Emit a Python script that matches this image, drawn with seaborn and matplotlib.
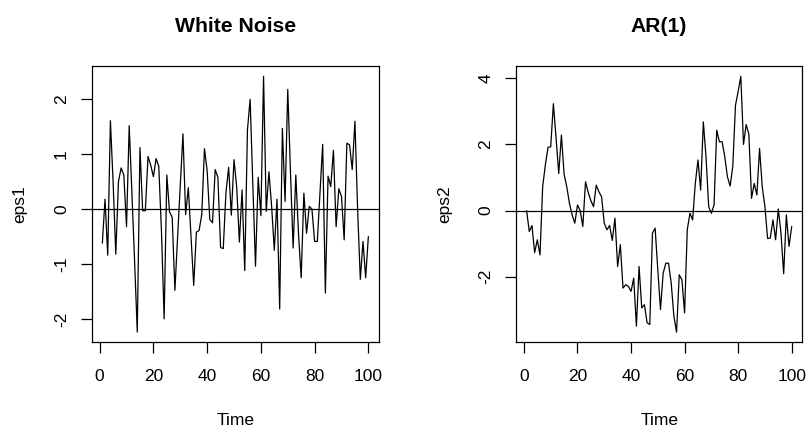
import numpy as np
import pandas as pd
import matplotlib
matplotlib.use("Agg")
import matplotlib.pyplot as plt
import seaborn as sns

# ---- data ----
time = list(range(1, 101))

eps1 = [-0.62, 0.18, -0.84, 1.61, 0.50, -0.82, 0.50, 0.75, 0.62, -0.32,
        1.52, 0.30, -0.95, -2.24, 1.12, -0.03, -0.03, 0.96, 0.80, 0.59,
        0.92, 0.78, -0.40, -2.00, 0.62, -0.05, -0.15, -1.48, -0.52, 0.43,
        1.37, -0.10, 0.39, -0.50, -1.39, -0.42, -0.39, -0.10, 1.10, 0.70,
        -0.19, -0.25, 0.72, 0.58, -0.70, -0.72, 0.30, 0.76, -0.11, 0.90,
        0.40, -0.60, 0.35, -1.12, 1.44, 2.00, 0.45, -1.04, 0.58, -0.12,
        2.42, -0.04, 0.68, 0.05, -0.75, 0.18, -1.82, 1.47, 0.14, 2.18,
        0.70, -0.71, 0.62, -0.44, -1.25, 0.29, -0.44, 0.05, 0.00, -0.59,
        -0.59, 0.30, 1.18, -1.53, 0.60, 0.41, 1.07, -0.32, 0.37, 0.23,
        -0.56, 1.20, 1.17, 0.72, 1.60, 0.00, -1.28, -0.59, -1.25, -0.50]

eps2 = [0.00, -0.63, -0.45, -1.27, -0.88, -1.34, 0.72, 1.38, 1.91, 1.93,
        3.23, 2.20, 1.12, 2.28, 1.10, 0.72, 0.22, -0.13, -0.38, 0.17,
        0.00, -0.48, 0.87, 0.55, 0.30, 0.12, 0.77, 0.57, 0.42, -0.38,
        -0.58, -0.45, -0.90, -0.23, -1.69, -1.03, -2.34, -2.24, -2.29, -2.44,
        -2.04, -3.49, -1.69, -2.94, -2.84, -3.39, -3.44, -0.68, -0.53, -1.80,
        -2.99, -1.89, -1.59, -1.59, -2.19, -3.19, -3.67, -1.94, -2.09, -3.09,
        -0.58, -0.08, -0.28, 0.82, 1.53, 0.62, 2.68, 1.63, 0.12, -0.08,
        0.17, 2.43, 2.08, 2.08, 1.63, 1.02, 0.74, 1.33, 3.18, 3.60,
        4.06, 2.00, 2.60, 2.31, 0.37, 0.82, 0.47, 1.88, 0.72, 0.12,
        -0.84, -0.83, -0.28, -0.88, 0.05, -0.68, -1.91, -0.13, -1.08, -0.48]

titles = ["White Noise", "AR(1)"]
ylabels = ["eps1", "eps2"]
xticks = [0, 20, 40, 60, 80, 100]
yticks1 = [-2, -1, 0, 1, 2]
yticks2 = [-2, 0, 2, 4]

# ---- style ----
sns.set_style("white")
plt.rcParams["font.family"] = ["Liberation Sans", "DejaVu Sans"]
plt.rcParams["text.color"] = "black"
plt.rcParams["axes.labelcolor"] = "black"
plt.rcParams["xtick.color"] = "black"
plt.rcParams["ytick.color"] = "black"

W, H = 810, 428
fig = plt.figure(figsize=(W / 100, H / 100), dpi=100)

def box(x0, x1, ytop, ybot):
    return [x0 / W, 1 - ybot / H, (x1 - x0) / W, (ybot - ytop) / H]

ax1 = fig.add_axes(box(91.7, 379.0, 66.0, 342.3))
ax2 = fig.add_axes(box(516.0, 802.3, 66.0, 342.3))

def r_range(vals):
    lo, hi = min(vals), max(vals)
    pad = 0.04 * (hi - lo)
    return lo - pad, hi + pad

for ax, y, title, ylab, yt in [(ax1, eps1, titles[0], ylabels[0], yticks1),
                                (ax2, eps2, titles[1], ylabels[1], yticks2)]:
    df = pd.DataFrame({"Time": time, ylab: y})
    sns.lineplot(data=df, x="Time", y=ylab, ax=ax, color="black",
                 linewidth=0.9, estimator=None)
    ax.axhline(0, color="black", linewidth=0.9)
    ax.set_xlim(*r_range(time))
    ax.set_ylim(*r_range(y))
    ax.set_xticks(xticks)
    ax.set_yticks(yt)
    ax.set_xticklabels([str(v) for v in xticks])
    ax.set_yticklabels([str(v) for v in yt])
    for sp in ax.spines.values():
        sp.set_color("black")
        sp.set_linewidth(0.9)
    ax.tick_params(axis="both", which="both", direction="out", length=7.9,
                   width=0.9, color="black", labelsize=12.5, labelcolor="black",
                   bottom=True, left=True, top=False, right=False)
    ax.tick_params(axis="x", pad=11)
    ax.tick_params(axis="y", pad=8.5)
    for lab in ax.get_yticklabels():
        lab.set_rotation(90)
        lab.set_va("center")
        lab.set_ha("right")
    ax.set_xlabel("Time", fontsize=12.5, labelpad=21.5, color="black")
    ax.set_ylabel(ylab, fontsize=12.5, labelpad=19, color="black")
    ax.set_title(title, fontsize=15.2, fontweight="bold", pad=24.7,
                 color="black")

fig.savefig("out.png", dpi=100)
